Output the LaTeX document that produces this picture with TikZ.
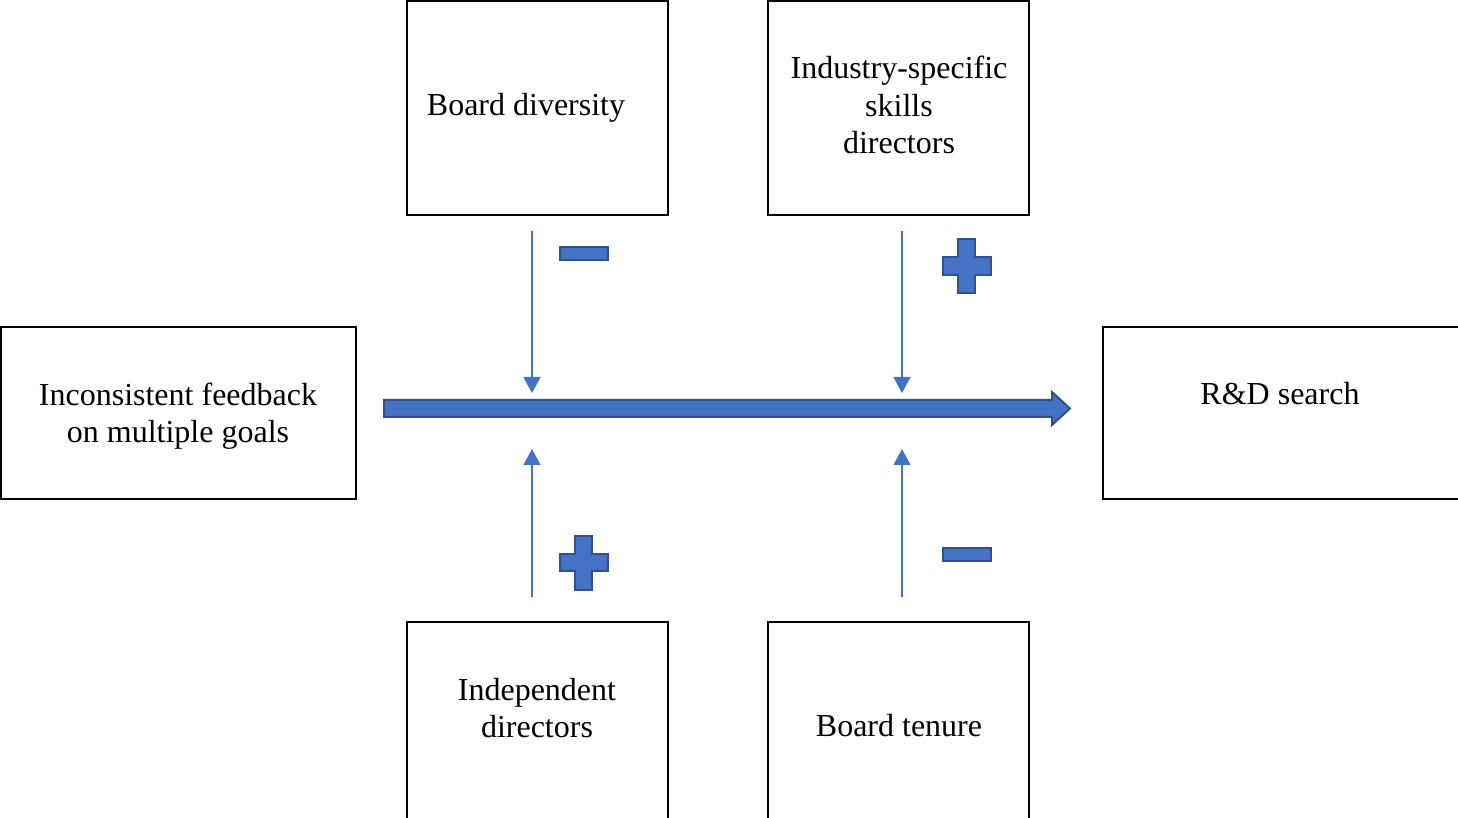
\documentclass[tikz,border=0pt]{standalone}
\usepackage{fontspec}
\setmainfont{Liberation Serif}
\usetikzlibrary{arrows.meta,positioning,calc}
\definecolor{accent}{HTML}{4472C4}
\definecolor{accentdark}{HTML}{2F528F}

\tikzset{
  factor/.style={draw=black, line width=.7pt, inner sep=0pt, outer sep=0pt,
    minimum width=130.5pt, minimum height=107pt, anchor=north west},
  wide/.style={factor, minimum width=177.5pt, minimum height=86pt},
  lbl/.style={align=center, font=\fontsize{16}{18.8}\selectfont},
  modarrow/.style={accent, line width=.6pt, -{Triangle[length=8pt,width=8.5pt]}},
  mainarrow/.style={fill=accent, draw=accentdark, line width=1pt, line join=miter},
  sign/.style={fill=accent, draw=accentdark, line width=1pt},
  pics/plussign/.style={code={
    \draw[sign] (-8.75,-27) -- (8.75,-27) -- (8.75,-8.75) -- (24,-8.75)
      -- (24,8.75) -- (8.75,8.75) -- (8.75,27) -- (-8.75,27) -- (-8.75,8.75)
      -- (-24,8.75) -- (-24,-8.75) -- (-8.75,-8.75) -- cycle;
  }},
  pics/minussign/.style={code={
    \draw[sign] (-24,-6.5) rectangle (24,6.5);
  }}
}

\begin{document}
\begin{tikzpicture}[x=.5pt,y=-.5pt]
\useasboundingbox (0,0) rectangle (1458,818);

% boxes
\node[factor] (div) at (407,1) {};
\node[factor] (ind) at (768,1) {};
\node[factor, minimum height=110pt] (indep) at (407,622) {};
\node[factor, minimum height=110pt] (ten) at (768,622) {};
\node[wide] (fb) at (1,327) {};
\node[wide, minimum width=190pt] (rd) at (1103,327) {};

% labels
\node[lbl] (div-t) at (526,108) {Board diversity};
\node[lbl] (ind-t) at (899,105) {Industry-specific\\skills\\directors};
\node[lbl] (indep-t) at (537,708) {Independent\\directors};
\node[lbl] (ten-t) at (899,726) {Board tenure};
\node[lbl] (fb-t) at (178,416) {Inconsistent feedback\\on multiple goals};
\node[lbl] (rd-t) at (1280,394) {R\&D search};

% main effect
\coordinate (main-s) at (384,408.5);
\coordinate (main-e) at (1070,408.5);
\draw[mainarrow] ($(main-s)+(0,-8.5)$) -- ($(main-e)+(-18,-8.5)$)
  -- ($(main-e)+(-18,-16.5)$) -- (main-e) -- ($(main-e)+(-18,16.5)$)
  -- ($(main-e)+(-18,8.5)$) -- ($(main-s)+(0,8.5)$) -- cycle;

% moderators
\coordinate (div-s) at (532,231);
\coordinate (div-e) at (532,393);
\coordinate (ind-s) at (902,231);
\coordinate (ind-e) at (902,393);
\coordinate (indep-s) at (532,597);
\coordinate (indep-e) at (532,449);
\coordinate (ten-s) at (902,597);
\coordinate (ten-e) at (902,449);
\foreach \m in {div,ind,indep,ten}
  \draw[modarrow] (\m-s) -- (\m-e);

% signs
\pic at (583.5,253.5) {minussign};
\pic at (966.5,266) {plussign};
\pic at (583.5,562.5) {plussign};
\pic at (966.5,554) {minussign};
\end{tikzpicture}
\end{document}
